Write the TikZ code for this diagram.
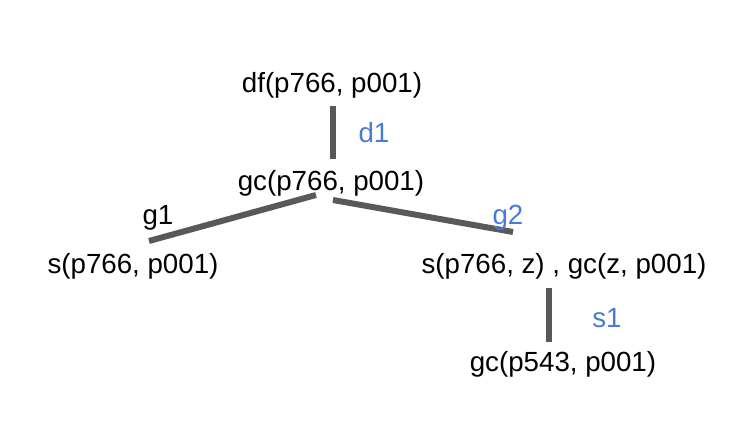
\documentclass[tikz,border=0pt]{standalone}
\usepackage{fontspec}
\setmainfont{Liberation Sans}
\usepackage{xcolor}
\definecolor{edgegray}{HTML}{595959}
\definecolor{ruleblue}{HTML}{4A7BD6}
\usetikzlibrary{positioning}

\tikzset{
goal/.style={font=\fontsize{27.7}{32}\selectfont, inner sep=0pt},
rulename/.style={goal, text=ruleblue},
edge/.style={edgegray, line width=6pt}
}

\begin{document}
\begin{tikzpicture}[x=1pt, y=-1pt]
\useasboundingbox (0,0) rectangle (748,444);

% goals
\node[goal] (df) at (332,85) {df(p766, p001)};
\node[goal] (gc) at (331,183) {gc(p766, p001)};
\node[goal] (s) at (133,266) {s(p766, p001)};
\node[goal] (sgc) at (564,266) {s(p766, z) , gc(z, p001)};
\node[goal] (gcz) at (563,364) {gc(p543, p001)};

% ends of the edges
\coordinate (d1top) at (333,106);
\coordinate (d1bot) at (333,159);
\coordinate (g1a) at (316,195);
\coordinate (g1b) at (149,241);
\coordinate (g2a) at (333,200);
\coordinate (g2b) at (513,232);
\coordinate (s1top) at (549,288);
\coordinate (s1bot) at (549,342);

\draw[edge] (d1top) -- (d1bot);
\draw[edge] (g1a) -- (g1b);
\draw[edge] (g2a) -- (g2b);
\draw[edge] (s1top) -- (s1bot);

% rule labels
\node[rulename] (d1) at (374,133) {d1};
\node[goal] (g1) at (158,218) {g1};
\node[rulename] (g2) at (508,218) {g2};
\node[rulename] (s1) at (607,318) {s1};

\end{tikzpicture}
\end{document}
